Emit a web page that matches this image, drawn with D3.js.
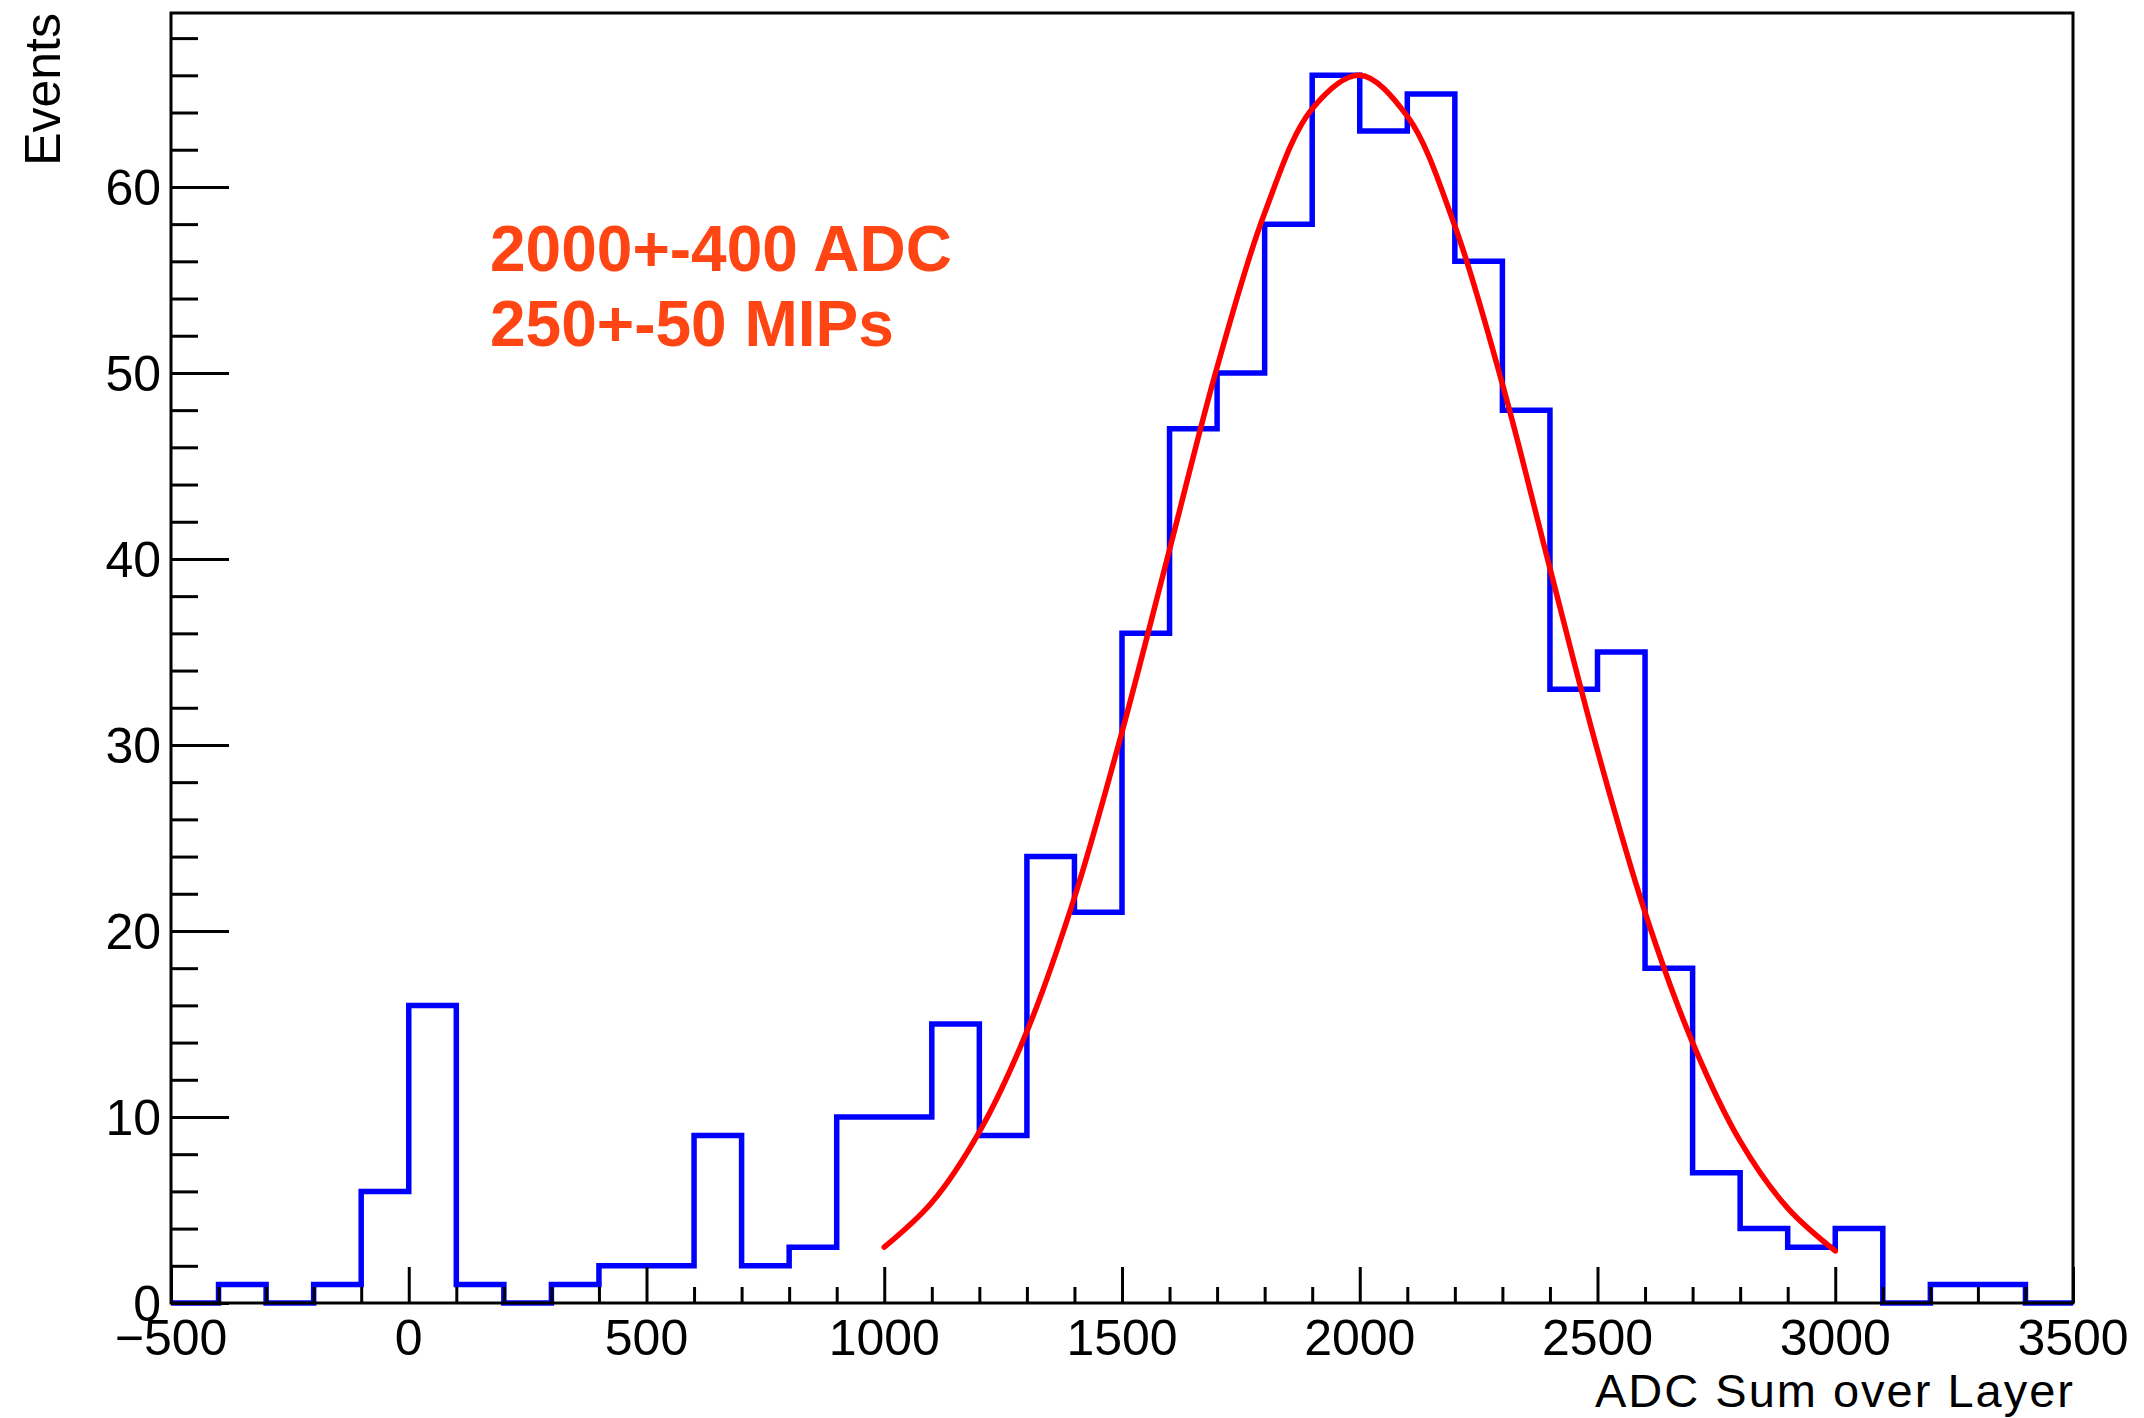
<!DOCTYPE html>
<html>
<head>
<meta charset="utf-8">
<script src="https://cdn.jsdelivr.net/npm/d3@7"></script>
<style>
  html, body { margin: 0; padding: 0; background: #fff; }
  svg { display: block; }
  text { font-family: "Liberation Sans", Arial, Helvetica, sans-serif; }
</style>
</head>
<body>
<svg id="chart" width="2144" height="1418"></svg>
<script>
// ---- data ----
const binStart = -500;
const binWidth = 100;
const counts = [0, 1, 0, 1, 6, 16, 1, 0, 1, 2,
                2, 9, 2, 3, 10, 10, 15, 9, 24, 21,
                36, 47, 50, 58, 66, 63, 65, 56, 48, 33,
                35, 18, 7, 4, 3, 4, 0, 1, 1, 0];
const fitX = [1000, 1100, 1200, 1300, 1400, 1500, 1600, 1700, 1800, 1900, 2000,
              2100, 2200, 2300, 2400, 2500, 2600, 2700, 2800, 2900, 3000];
const fitY = [3.0, 5.4, 9.2, 14.6, 21.8, 30.7, 40.5, 50.3, 58.6, 64.2, 66.0,
              63.8, 57.9, 49.4, 39.5, 29.7, 21.0, 14.0, 8.7, 5.1, 2.8];
const xTickValues = [-500, 0, 500, 1000, 1500, 2000, 2500, 3000, 3500];
const xTickLabels = ["\u2212500", "0", "500", "1000", "1500", "2000", "2500", "3000", "3500"];
const yTickValues = [0, 10, 20, 30, 40, 50, 60];
const yTickLabels = ["0", "10", "20", "30", "40", "50", "60"];
const annotationLines = ["2000+-400 ADC", "250+-50 MIPs"];
const xTitle = "ADC Sum over Layer";
const yTitle = "Events";

// ---- layout ----
const L = 171, R = 2073, T = 13, B = 1303;
const svg = d3.select("#chart");
svg.append("rect").attr("width", 2144).attr("height", 1418).attr("fill", "#fff");

const x = d3.scaleLinear().domain([-500, 3500]).range([L, R]);
const y = d3.scaleLinear().domain([0, 69.35]).range([B, T]);

// histogram step outline
const stepPts = counts.map((c, i) => [binStart + i * binWidth, c]);
stepPts.push([binStart + counts.length * binWidth, counts[counts.length - 1]]);
const stepLine = d3.line().x(d => x(d[0])).y(d => y(d[1])).curve(d3.curveStepAfter);
svg.append("path")
  .attr("d", stepLine(stepPts))
  .attr("fill", "none")
  .attr("stroke", "#0000ff")
  .attr("stroke-width", 5.5)
  .attr("stroke-linejoin", "miter");

// fit curve
const fitLine = d3.line().x(d => x(d[0])).y(d => y(d[1])).curve(d3.curveCatmullRom);
svg.append("path")
  .attr("d", fitLine(fitX.map((v, i) => [v, fitY[i]])))
  .attr("fill", "none")
  .attr("stroke", "#ff0000")
  .attr("stroke-width", 5.5)
  .attr("stroke-linecap", "round");

// axes (ticks inside, drawn on top)
const xMinor = d3.range(-500, 3501, 100).filter(v => v % 500 !== 0);
const yMinor = d3.range(0, 69, 2).filter(v => v % 10 !== 0);

const xAxisMajor = d3.axisTop(x).tickValues(xTickValues).tickSize(36).tickFormat("");
const xAxisMinor = d3.axisTop(x).tickValues(xMinor).tickSize(16).tickFormat("");
const yAxisMajor = d3.axisRight(y).tickValues(yTickValues).tickSize(58).tickFormat("");
const yAxisMinor = d3.axisRight(y).tickValues(yMinor).tickSize(27).tickFormat("");

function styleAxis(g) {
  g.select(".domain").remove();
  g.selectAll(".tick line").attr("stroke", "#000").attr("stroke-width", 3);
}
svg.append("g").attr("transform", `translate(0,${B})`).call(xAxisMajor).call(styleAxis);
svg.append("g").attr("transform", `translate(0,${B})`).call(xAxisMinor).call(styleAxis);
svg.append("g").attr("transform", `translate(${L},0)`).call(yAxisMajor).call(styleAxis);
svg.append("g").attr("transform", `translate(${L},0)`).call(yAxisMinor).call(styleAxis);

// frame
svg.append("rect")
  .attr("x", L).attr("y", T).attr("width", R - L).attr("height", B - T)
  .attr("fill", "none").attr("stroke", "#000").attr("stroke-width", 3);

// tick labels
svg.append("g").selectAll("text").data(xTickValues).join("text")
  .attr("x", d => x(d))
  .attr("y", 1355)
  .attr("text-anchor", "middle")
  .attr("font-size", 50)
  .attr("fill", "#000")
  .text((d, i) => xTickLabels[i]);

svg.append("g").selectAll("text").data(yTickValues).join("text")
  .attr("x", 161)
  .attr("y", d => y(d) + 18)
  .attr("text-anchor", "end")
  .attr("font-size", 50)
  .attr("fill", "#000")
  .text((d, i) => yTickLabels[i]);

// axis titles
svg.append("text")
  .attr("x", R).attr("y", 1407)
  .attr("text-anchor", "end")
  .attr("font-size", 47)
  .attr("textLength", 478)
  .attr("lengthAdjust", "spacing")
  .attr("fill", "#000")
  .text(xTitle);

svg.append("text")
  .attr("transform", `translate(60,${T}) rotate(-90)`)
  .attr("text-anchor", "end")
  .attr("font-size", 50)
  .attr("fill", "#000")
  .text(yTitle);

// annotation
svg.append("g").selectAll("text").data(annotationLines).join("text")
  .attr("x", 490)
  .attr("y", (d, i) => 271 + i * 75)
  .attr("font-size", 64)
  .attr("font-weight", "bold")
  .attr("fill", "#ff4513")
  .text(d => d);
</script>
</body>
</html>
